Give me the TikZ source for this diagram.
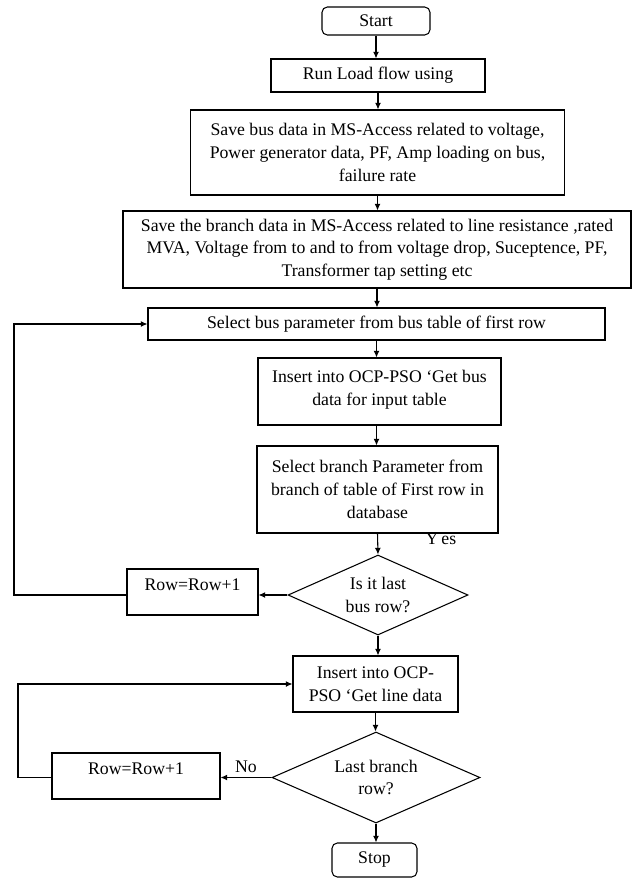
\documentclass[tikz,border=0pt]{standalone}
\usepackage{fontspec}
\setmainfont{Liberation Serif}
\usetikzlibrary{shapes.geometric,arrows.meta}
\begin{document}
\begin{tikzpicture}[x=0.75pt,y=-0.75pt,
  font=\fontsize{13.3}{17}\selectfont,
  box/.style={draw, line width=0.8pt, rectangle, align=center, inner sep=0pt},
  term/.style={box, rounded corners=4pt},
  dec/.style={draw, line width=0.8pt, diamond, align=center, inner sep=0pt},
  arr/.style={line width=0.8pt, -{Latex[length=5pt,width=4.5pt]}},
  ln/.style={line width=0.8pt}]
\useasboundingbox (0,0) rectangle (632,879);
\node[term, minimum width=81pt, minimum height=21pt] (start) at (376,21) {Start};
\node[box, minimum width=160.5pt, minimum height=24.75pt] (run) at (378,75.5) {Run Load flow using};
\node[box, minimum width=280.5pt, minimum height=63.75pt] (savebus) at (377.5,152.5)
  {Save bus data in MS-Access related to voltage,\\Power generator data, PF, Amp loading on bus,\\failure rate};
\node[box, minimum width=381pt, minimum height=57.75pt] (savebranch) at (377,249.5)
  {Save the branch data in MS-Access related to line resistance ,rated\\MVA, Voltage from to and to from voltage drop, Suceptence, PF,\\Transformer tap setting etc};
\node[box, minimum width=342.75pt, minimum height=24pt] (selbus) at (376.5,324)
  {Select bus parameter from bus table of first row};
\node[box, minimum width=182.25pt, minimum height=50.25pt] (insbus) at (379.5,391.5)
  {\parbox[c][44pt][t]{180pt}{\centering\vspace{6pt}Insert into OCP-PSO `Get bus\\data for input table}};
\node[box, minimum width=180.75pt, minimum height=65.25pt] (selbranch) at (377.5,489.5)
  {Select branch Parameter from\\branch of table of First row in\\database};
\node[dec, aspect=2.25, minimum width=135pt, minimum height=60pt] (dia1) at (378,595) {Is it last\\bus row?};
\node[box, minimum width=98.25pt, minimum height=34.5pt] (row1) at (192.5,592)
  {\parbox[c][30pt][t]{95pt}{\centering\vspace{5pt}Row=Row+1}};
\node[box, minimum width=123.75pt, minimum height=42pt] (insline) at (375.5,684)
  {Insert into OCP-\\PSO `Get line data};
\node[dec, aspect=2.29, minimum width=156pt, minimum height=68.25pt] (dia2) at (376,777.5) {Last branch\\row?};
\node[box, minimum width=126pt, minimum height=34.5pt] (row2) at (136,776)
  {\parbox[c][30pt][t]{120pt}{\centering\vspace{5pt}Row=Row+1}};
\node[term, minimum width=63.75pt, minimum height=25.5pt] (stop) at (374.5,860) {Stop};
\node (yes) at (441,539) {Y\,es};
\node (no) at (246,767) {No};
\coordinate (l1) at (14,0);
\coordinate (l2) at (18,0);

\draw[arr] (start.south) -- (start.south |- run.north);
\draw[arr] (run.south) -- (run.south |- savebus.north);
\draw[arr] (savebus.south) -- (savebus.south |- savebranch.north);
\draw[arr] (savebranch.south) -- (savebranch.south |- selbus.north);
\draw[arr] (selbus.south) -- (selbus.south |- insbus.north);
\draw[arr] (insbus.south -| selbus.south) -- (selbus.south |- selbranch.north);
\draw[arr] (selbranch.south) -- (dia1.north);
\draw[arr] (dia1.south) -- (dia1.south |- insline.north);
\draw[arr] (insline.south) -- (insline.south |- dia2.north);
\draw[arr] (dia2.south) -- (dia2.south |- stop.north);
\draw[arr] (dia1.west) -- (dia1.west -| row1.east);
\draw[arr] (row1.west |- dia1.west) -- (l1 |- dia1.west) -- (l1 |- selbus.west) -- (selbus.west);
\draw[arr] (dia2.west) -- (dia2.west -| row2.east);
\draw[arr] (row2.west |- dia2.west) -- (l2 |- dia2.west) -- (l2 |- insline.west) -- (insline.west);
\end{tikzpicture}
\end{document}
